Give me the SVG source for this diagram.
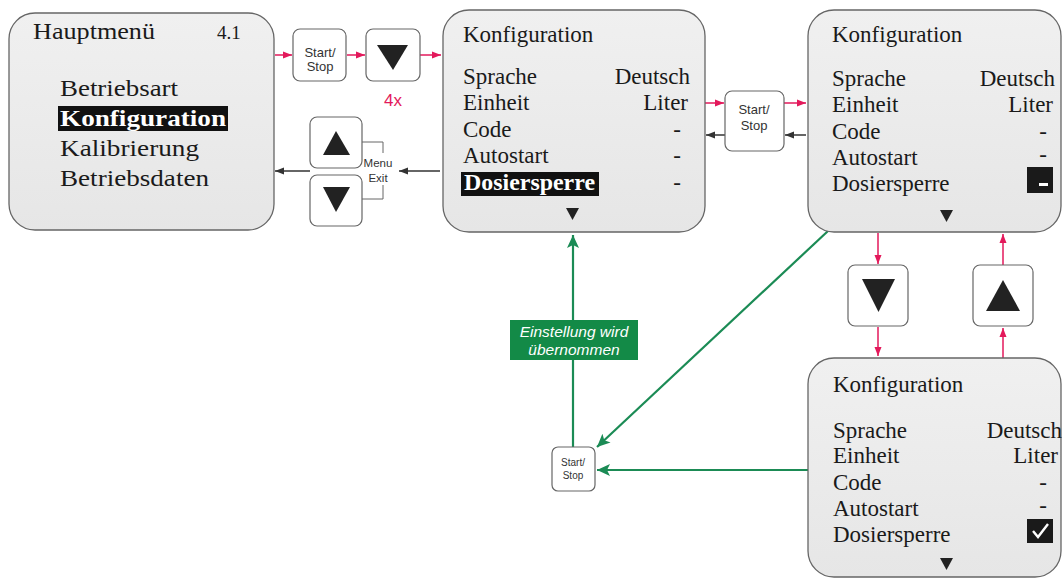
<svg xmlns="http://www.w3.org/2000/svg" width="1062" height="579" viewBox="0 0 1062 579">
<defs>
<linearGradient id="g" x1="0" y1="0" x2="0" y2="1">
<stop offset="0" stop-color="#f0f0f0"/>
<stop offset="1" stop-color="#e6e6e6"/>
</linearGradient>
<marker id="ar" markerUnits="userSpaceOnUse" markerWidth="10" markerHeight="8" refX="9" refY="4" orient="auto"><path d="M0,0.5 L9,4 L0,7.5 Z" fill="#e3195b"/></marker>
<marker id="ak" markerUnits="userSpaceOnUse" markerWidth="10" markerHeight="8" refX="9" refY="4" orient="auto"><path d="M0,0.5 L9,4 L0,7.5 Z" fill="#333"/></marker>
<marker id="ag" markerUnits="userSpaceOnUse" markerWidth="14" markerHeight="12" refX="13" refY="6" orient="auto"><path d="M0,0 L13,6 L0,12 L3,6 Z" fill="#1b8b55"/></marker>
<style>
.box{fill:url(#g);stroke:#666;stroke-width:1.3}
.btn{fill:#fff;stroke:#666;stroke-width:1.2}
.s{font-family:"Liberation Serif","DejaVu Serif",serif;font-size:23px;fill:#1a1a1a}
.s1{font-family:"Liberation Serif","DejaVu Serif",serif;font-size:24px;fill:#1a1a1a}
.hl{font-weight:bold;fill:#fff}
.e{text-anchor:end}
.b{font-family:"Liberation Sans",Arial,sans-serif;fill:#333;text-anchor:middle}
.tri{fill:#222}
.red{stroke:#e3195b;stroke-width:1.5;fill:none;marker-end:url(#ar)}
.blk{stroke:#333;stroke-width:1.5;fill:none;marker-end:url(#ak)}
.grn{stroke:#1b8b55;stroke-width:2.2;fill:none;marker-end:url(#ag)}
.gl{font-family:"Liberation Sans",Arial,sans-serif;font-size:15.5px;font-style:italic;fill:#fff;text-anchor:middle}
</style>
</defs>
<rect width="1062" height="579" fill="#fff"/>

<g id="connectors">
<line class="red" x1="275" y1="55" x2="292" y2="55"/>
<line class="red" x1="347" y1="55" x2="365" y2="55"/>
<line class="red" x1="420" y1="55" x2="441" y2="55"/>
<line class="blk" x1="440" y1="171" x2="399" y2="171"/>
<line class="blk" x1="310" y1="171" x2="275" y2="171"/>
<line class="red" x1="705" y1="103" x2="724" y2="103"/>
<line class="red" x1="784" y1="103" x2="806" y2="103"/>
<line class="blk" x1="806" y1="135" x2="785" y2="135"/>
<line class="blk" x1="725" y1="135" x2="706" y2="135"/>
<line class="red" x1="878" y1="233" x2="878" y2="264"/>
<line class="red" x1="878" y1="327" x2="878" y2="356"/>
<line class="red" x1="1003" y1="358" x2="1003" y2="328"/>
<line class="red" x1="1003" y1="265" x2="1003" y2="234"/>
<line class="grn" x1="573" y1="447" x2="573" y2="235"/>
<line class="grn" x1="828" y1="231" x2="597" y2="447"/>
<line class="grn" x1="808" y1="470" x2="597" y2="470"/>
</g>

<g id="hauptmenu">
<rect class="box" x="9" y="13" width="265" height="217" rx="26"/>
<text class="s1" x="33" y="39" textLength="122" lengthAdjust="spacingAndGlyphs">Hauptmenü</text>
<text class="s1" x="217" y="39" style="font-size:19px">4.1</text>
<text class="s1" x="60" y="96" textLength="118" lengthAdjust="spacingAndGlyphs">Betriebsart</text>
<rect x="58" y="106" width="170" height="25" fill="#111"/>
<text class="s1 hl" x="60" y="126" textLength="166" lengthAdjust="spacingAndGlyphs">Konfiguration</text>
<text class="s1" x="60" y="156" textLength="139" lengthAdjust="spacingAndGlyphs">Kalibrierung</text>
<text class="s1" x="60" y="186" textLength="149" lengthAdjust="spacingAndGlyphs">Betriebsdaten</text>
</g>

<g id="btn-start1">
<rect class="btn" x="293" y="29" width="53" height="52" rx="7"/>
<text class="b" x="320" y="57" font-size="13">Start/</text>
<text class="b" x="320" y="71" font-size="13">Stop</text>
</g>

<g id="btn-down1">
<rect class="btn" x="366" y="29" width="54" height="52" rx="7"/>
<path class="tri" d="M377,45 L408,45 L393,70 Z"/>
<text x="393" y="106" font-family="Liberation Sans, Arial, sans-serif" font-size="17" fill="#e3195b" text-anchor="middle">4x</text>
</g>

<g id="menu-exit">
<path d="M362,142 H383 V199 H362" fill="none" stroke="#666" stroke-width="1"/>
<rect x="366" y="153" width="24" height="32" fill="#fff"/>
<text class="b" x="378" y="167" font-size="11.5">Menu</text>
<text class="b" x="378" y="182" font-size="11.5">Exit</text>
</g>

<g id="btn-up2">
<rect class="btn" x="310" y="117" width="52" height="51" rx="7"/>
<path class="tri" d="M323,155 L350,155 L336,131 Z"/>
</g>

<g id="btn-down2">
<rect class="btn" x="310" y="175" width="52" height="51" rx="7"/>
<path class="tri" d="M323,187 L350,187 L336,212 Z"/>
</g>

<g id="konfig1">
<rect class="box" x="443" y="10" width="262" height="222" rx="26"/>
<text class="s" x="463" y="42">Konfiguration</text>
<text class="s" x="463" y="84">Sprache</text>
<text class="s e" x="690" y="84">Deutsch</text>
<text class="s" x="463" y="110">Einheit</text>
<text class="s e" x="688" y="110">Liter</text>
<text class="s" x="463" y="137">Code</text>
<text class="s e" x="681" y="137">-</text>
<text class="s" x="463" y="163">Autostart</text>
<text class="s e" x="681" y="163">-</text>
<rect x="461" y="172" width="138" height="24" fill="#111"/>
<text class="s hl" x="464" y="190" textLength="131" lengthAdjust="spacingAndGlyphs">Dosiersperre</text>
<text class="s e" x="681" y="190">-</text>
<path class="tri" d="M566,208 L579,208 L572.5,220 Z"/>
</g>

<g id="btn-start2">
<rect class="btn" x="725" y="91" width="59" height="60" rx="7"/>
<text class="b" x="754" y="114" font-size="13">Start/</text>
<text class="b" x="754" y="130" font-size="13">Stop</text>
</g>

<g id="konfig2">
<rect class="box" x="808" y="10" width="253" height="222" rx="26"/>
<text class="s" x="832" y="42">Konfiguration</text>
<text class="s" x="832" y="86">Sprache</text>
<text class="s e" x="1055" y="86">Deutsch</text>
<text class="s" x="832" y="112">Einheit</text>
<text class="s e" x="1053" y="112">Liter</text>
<text class="s" x="832" y="139">Code</text>
<text class="s e" x="1047" y="139">-</text>
<text class="s" x="832" y="165">Autostart</text>
<text class="s e" x="1047" y="162">-</text>
<text class="s" x="832" y="191">Dosiersperre</text>
<rect x="1027" y="167" width="26" height="26" fill="#1a1a1a"/>
<rect x="1039" y="183" width="9" height="3" fill="#fff"/>
<path class="tri" d="M940,210 L953,210 L946.5,222 Z"/>
</g>

<g id="btn-down3">
<rect class="btn" x="848" y="265" width="60" height="61" rx="7"/>
<path class="tri" d="M862,279 L895,279 L878.5,312 Z"/>
</g>

<g id="btn-up3">
<rect class="btn" x="973" y="265" width="60" height="61" rx="7"/>
<path class="tri" d="M986,311 L1020,311 L1003,280 Z"/>
</g>

<g id="konfig3">
<rect class="box" x="808" y="358" width="253" height="219" rx="26"/>
<text class="s" x="833" y="392">Konfiguration</text>
<text class="s" x="833" y="438">Sprache</text>
<text class="s e" x="1062" y="438">Deutsch</text>
<text class="s" x="833" y="463">Einheit</text>
<text class="s e" x="1058" y="463">Liter</text>
<text class="s" x="833" y="490">Code</text>
<text class="s e" x="1047" y="490">-</text>
<text class="s" x="833" y="516">Autostart</text>
<text class="s e" x="1047" y="513">-</text>
<text class="s" x="833" y="542">Dosiersperre</text>
<rect x="1027" y="519" width="26" height="24" fill="#1a1a1a"/>
<path d="M1033,531 L1038,537 L1048,524" fill="none" stroke="#fff" stroke-width="2.4"/>
<path class="tri" d="M940,558 L953,558 L946.5,570 Z"/>
</g>

<g id="label-green">
<rect x="510" y="320" width="128" height="40" fill="#138a47"/>
<text class="gl" x="574" y="337">Einstellung wird</text>
<text class="gl" x="574" y="355">übernommen</text>
</g>

<g id="btn-start3">
<rect class="btn" x="552" y="447" width="43" height="44" rx="6"/>
<text class="b" x="573" y="466" font-size="10">Start/</text>
<text class="b" x="573" y="479" font-size="10">Stop</text>
</g>
</svg>
